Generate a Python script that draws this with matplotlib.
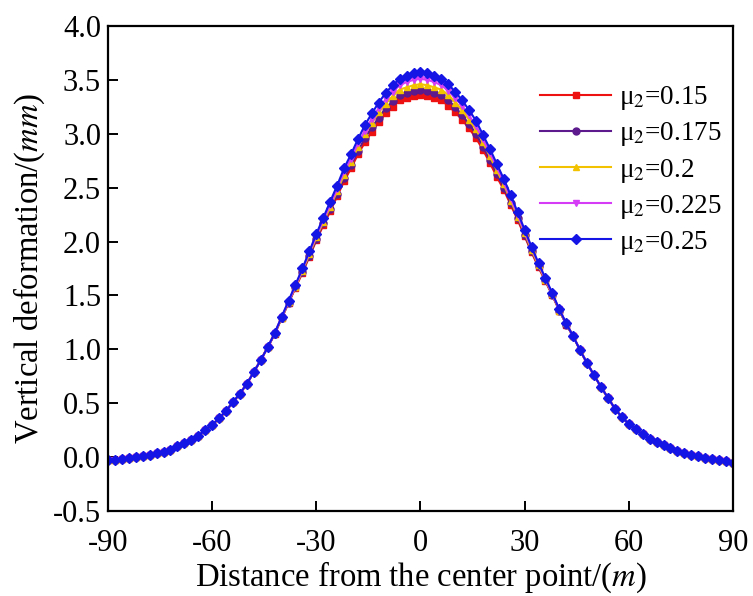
import matplotlib
matplotlib.use("Agg")
import matplotlib.pyplot as plt
import numpy as np

# distance from the center point (m), 2 m step
DISTANCE = np.arange(-90, 91, 2)

MU_LABELS = ["0.15", "0.175", "0.2", "0.225", "0.25"]
COLORS = ["#ee1111", "#5c1a8c", "#f2c200", "#d43cf5", "#1515e6"]
MARKERS = ["s", "o", "^", "v", "D"]

DEF_015 = [
    -0.03, -0.03, -0.02, -0.01, 0.00, 0.01, 0.02, 0.04, 0.05, 0.07,
    0.10, 0.13, 0.16, 0.20, 0.25, 0.30, 0.36, 0.43, 0.51, 0.59,
    0.68, 0.79, 0.90, 1.02, 1.14, 1.29, 1.43, 1.57, 1.71, 1.86,
    2.01, 2.15, 2.28, 2.42, 2.56, 2.68, 2.81, 2.92, 3.02, 3.11,
    3.19, 3.25, 3.31, 3.33, 3.35, 3.36, 3.35, 3.33, 3.31, 3.26,
    3.20, 3.13, 3.05, 2.96, 2.85, 2.73, 2.60, 2.48, 2.34, 2.20,
    2.05, 1.90, 1.76, 1.63, 1.50, 1.36, 1.23, 1.12, 0.99, 0.87,
    0.76, 0.65, 0.55, 0.45, 0.37, 0.31, 0.26, 0.21, 0.17, 0.14,
    0.11, 0.08, 0.06, 0.04, 0.02, 0.01, -0.01, -0.02, -0.03, -0.04,
    -0.05,
]
DEF_0175 = [
    -0.03, -0.03, -0.02, -0.01, 0.00, 0.01, 0.02, 0.04, 0.05, 0.07,
    0.10, 0.13, 0.16, 0.20, 0.25, 0.30, 0.36, 0.43, 0.51, 0.59,
    0.68, 0.79, 0.90, 1.02, 1.14, 1.29, 1.43, 1.58, 1.72, 1.87,
    2.02, 2.17, 2.30, 2.44, 2.59, 2.71, 2.84, 2.96, 3.06, 3.15,
    3.24, 3.30, 3.36, 3.38, 3.40, 3.41, 3.40, 3.38, 3.36, 3.31,
    3.25, 3.17, 3.09, 3.00, 2.88, 2.76, 2.63, 2.50, 2.36, 2.22,
    2.06, 1.91, 1.77, 1.64, 1.50, 1.36, 1.23, 1.12, 0.99, 0.87,
    0.76, 0.65, 0.55, 0.45, 0.37, 0.31, 0.26, 0.21, 0.17, 0.14,
    0.11, 0.08, 0.06, 0.04, 0.02, 0.01, -0.01, -0.02, -0.03, -0.04,
    -0.05,
]
DEF_02 = [
    -0.03, -0.03, -0.02, -0.01, 0.00, 0.01, 0.02, 0.04, 0.05, 0.07,
    0.10, 0.13, 0.16, 0.20, 0.25, 0.30, 0.36, 0.43, 0.51, 0.59,
    0.68, 0.79, 0.90, 1.02, 1.15, 1.29, 1.44, 1.58, 1.73, 1.88,
    2.04, 2.18, 2.32, 2.47, 2.62, 2.74, 2.88, 3.00, 3.10, 3.20,
    3.28, 3.35, 3.41, 3.43, 3.45, 3.46, 3.45, 3.43, 3.41, 3.36,
    3.29, 3.22, 3.13, 3.04, 2.92, 2.79, 2.66, 2.53, 2.38, 2.23,
    2.08, 1.92, 1.78, 1.64, 1.51, 1.36, 1.24, 1.12, 0.99, 0.87,
    0.76, 0.65, 0.55, 0.45, 0.37, 0.31, 0.26, 0.21, 0.17, 0.14,
    0.11, 0.08, 0.06, 0.04, 0.02, 0.01, -0.01, -0.02, -0.03, -0.04,
    -0.05,
]
DEF_0225 = [
    -0.03, -0.03, -0.02, -0.01, 0.00, 0.01, 0.02, 0.04, 0.05, 0.07,
    0.10, 0.13, 0.16, 0.20, 0.25, 0.30, 0.36, 0.43, 0.51, 0.59,
    0.68, 0.79, 0.90, 1.02, 1.15, 1.30, 1.44, 1.59, 1.74, 1.90,
    2.05, 2.20, 2.34, 2.49, 2.65, 2.77, 2.91, 3.03, 3.14, 3.24,
    3.32, 3.39, 3.45, 3.48, 3.50, 3.51, 3.50, 3.48, 3.45, 3.40,
    3.33, 3.26, 3.17, 3.07, 2.95, 2.82, 2.69, 2.55, 2.40, 2.25,
    2.09, 1.94, 1.79, 1.65, 1.51, 1.37, 1.24, 1.12, 0.99, 0.87,
    0.76, 0.65, 0.55, 0.45, 0.37, 0.31, 0.26, 0.21, 0.17, 0.14,
    0.11, 0.08, 0.06, 0.04, 0.02, 0.01, -0.01, -0.02, -0.03, -0.04,
    -0.05,
]
DEF_025 = [
    -0.03, -0.03, -0.02, -0.01, 0.00, 0.01, 0.02, 0.04, 0.05, 0.07,
    0.10, 0.13, 0.16, 0.20, 0.25, 0.30, 0.36, 0.43, 0.51, 0.59,
    0.68, 0.79, 0.90, 1.02, 1.15, 1.30, 1.45, 1.60, 1.75, 1.91,
    2.07, 2.22, 2.37, 2.52, 2.68, 2.81, 2.95, 3.08, 3.19, 3.29,
    3.38, 3.45, 3.51, 3.54, 3.56, 3.57, 3.56, 3.54, 3.51, 3.46,
    3.39, 3.31, 3.22, 3.12, 2.99, 2.86, 2.72, 2.58, 2.43, 2.27,
    2.11, 1.95, 1.80, 1.66, 1.52, 1.37, 1.24, 1.12, 0.99, 0.87,
    0.76, 0.65, 0.55, 0.45, 0.37, 0.31, 0.26, 0.21, 0.17, 0.14,
    0.11, 0.08, 0.06, 0.04, 0.02, 0.01, -0.01, -0.02, -0.03, -0.04,
    -0.05,
]
SERIES = [DEF_015, DEF_0175, DEF_02, DEF_0225, DEF_025]


def setup():
    plt.rcParams.update(
        {
            "font.family": "Liberation Serif",
            "mathtext.fontset": "stix",
            "font.size": 22,
            "axes.labelsize": 23.5,
            "axes.unicode_minus": False,
            "axes.linewidth": 1.6,
            "xtick.direction": "in",
            "ytick.direction": "in",
            "xtick.major.size": 7,
            "ytick.major.size": 7,
            "xtick.major.width": 1.4,
            "ytick.major.width": 1.4,
        }
    )


def main():
    setup()
    fig = plt.figure(figsize=(7.53, 5.96), dpi=100)
    ax = fig.add_axes([0.1434, 0.1426, 0.83, 0.8138])

    for vals, mu, color, marker in zip(SERIES, MU_LABELS, COLORS, MARKERS):
        ax.plot(
            DISTANCE,
            vals,
            color=color,
            marker=marker,
            markersize=5,
            linewidth=1.5,
            label=f"μ$_2$={mu}",
        )

    ax.set_xlim(-90, 90)
    ax.set_ylim(-0.5, 4.0)
    ax.set_xticks(np.arange(-90, 91, 30))
    ax.set_yticks(np.arange(-0.5, 4.01, 0.5))
    ax.set_yticklabels([f"{v:.1f}" for v in np.arange(-0.5, 4.01, 0.5)])
    ax.tick_params(top=False, right=False)
    ax.tick_params(axis="x", pad=13)
    ax.tick_params(axis="y", pad=5)
    ax.set_xlabel("Distance from the center point/($\\it{m}$)", labelpad=1)
    ax.set_ylabel("Vertical deformation/($\\it{mm}$)", labelpad=4)

    ax.legend(
        loc="upper right",
        bbox_to_anchor=(1.021, 0.93),
        frameon=False,
        numpoints=1,
        handlelength=2.6,
        handletextpad=0.3,
        labelspacing=0.3,
        fontsize=19.5,
    )

    fig.savefig("out.png", dpi=100)
    plt.close(fig)


if __name__ == "__main__":
    main()
